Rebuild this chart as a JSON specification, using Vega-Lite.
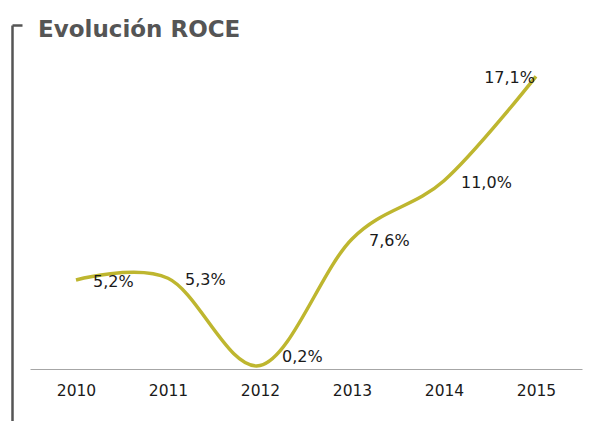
{
  "$schema": "https://vega.github.io/schema/vega-lite/v6.json",
  "width": 552,
  "height": 396,
  "autosize": {"type": "none"},
  "padding": {"left": 30, "top": 25, "right": 13, "bottom": 0},
  "background": "white",
  "title": {
    "text": "Evolución ROCE",
    "anchor": "start",
    "frame": "group",
    "font": "DejaVu Sans",
    "fontSize": 23,
    "fontWeight": "bold",
    "color": "#555555",
    "baseline": "alphabetic",
    "offset": -11,
    "dx": 8,
    "dy": 25
  },
  "data": {
    "values": [
      {"year": "2010", "roce": 5.2, "label": "5,2%"},
      {"year": "2011", "roce": 5.3, "label": "5,3%"},
      {"year": "2012", "roce": 0.2, "label": "0,2%"},
      {"year": "2013", "roce": 7.6, "label": "7,6%"},
      {"year": "2014", "roce": 11.0, "label": "11,0%"},
      {"year": "2015", "roce": 17.1, "label": "17,1%"}
    ]
  },
  "encoding": {
    "x": {
      "field": "year",
      "type": "ordinal",
      "scale": {"type": "point", "padding": 0.5},
      "axis": {
        "orient": "bottom",
        "offset": -52,
        "domainColor": "#A6A6A6",
        "domainWidth": 1,
        "ticks": false,
        "grid": false,
        "labelAngle": 0,
        "labelFont": "DejaVu Sans",
        "labelFontSize": 15.5,
        "labelColor": "#1a1a1a",
        "labelPadding": 14,
        "title": null
      }
    },
    "y": {
      "field": "roce",
      "type": "quantitative",
      "scale": {"domain": [-3.04, 20.1], "nice": false, "zero": false},
      "axis": {
        "orient": "left",
        "offset": 18,
        "domainColor": "#555555",
        "domainWidth": 2.5,
        "values": [20.1],
        "tickSize": -10,
        "tickColor": "#555555",
        "tickWidth": 2.5,
        "labels": false,
        "grid": false,
        "title": null
      }
    }
  },
  "layer": [
    {
      "mark": {"type": "line", "interpolate": "cardinal", "color": "#BEB62F", "strokeWidth": 3.5}
    },
    {
      "transform": [{"filter": "datum.year != '2015' && datum.year != '2012'"}],
      "mark": {"type": "text", "align": "left", "baseline": "middle", "dx": 17, "dy": 2, "font": "DejaVu Sans", "fontSize": 16, "color": "#1a1a1a"},
      "encoding": {"text": {"field": "label"}}
    },
    {
      "transform": [{"filter": "datum.year == '2012'"}],
      "mark": {"type": "text", "align": "left", "baseline": "middle", "dx": 22, "dy": -9, "font": "DejaVu Sans", "fontSize": 16, "color": "#1a1a1a"},
      "encoding": {"text": {"field": "label"}}
    },
    {
      "transform": [{"filter": "datum.year == '2015'"}],
      "mark": {"type": "text", "align": "right", "baseline": "middle", "dx": -1, "dy": 2, "font": "DejaVu Sans", "fontSize": 16, "color": "#1a1a1a"},
      "encoding": {"text": {"field": "label"}}
    }
  ],
  "config": {"view": {"stroke": null}}
}
